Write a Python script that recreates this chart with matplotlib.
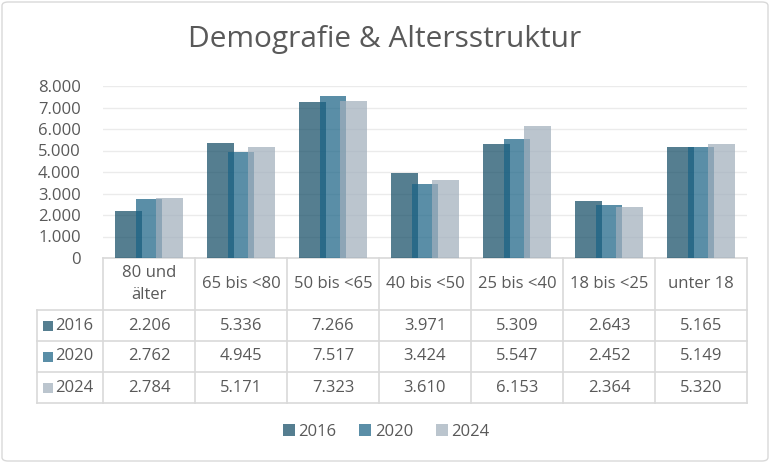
import numpy as np
import matplotlib
matplotlib.use("Agg")
import matplotlib.pyplot as plt
from matplotlib.patches import FancyBboxPatch

plt.rcParams['font.family'] = ['Open Sans', 'DejaVu Sans']

# Daten
categories = ["80 und\nälter", "65 bis <80", "50 bis <65", "40 bis <50",
              "25 bis <40", "18 bis <25", "unter 18"]
years = ["2016", "2020", "2024"]
v2016 = [2206, 5336, 7266, 3971, 5309, 2643, 5165]
v2020 = [2762, 4945, 7517, 3424, 5547, 2452, 5149]
v2024 = [2784, 5171, 7323, 3610, 6153, 2364, 5320]
yticks = [0, 1000, 2000, 3000, 4000, 5000, 6000, 7000, 8000]

series = [v2016, v2020, v2024]
colors = ["#134c65", "#1a6386", "#a1afbc"]
alpha = 0.72
txt = "#595959"
grid = "#d9d9d9"
fs = 12

W, H = 770, 463
fig = plt.figure(figsize=(W / 100, H / 100), dpi=100)


def box(x0, y0, x1, y1):
    # Pixel (oben links) -> figure fraction
    return [x0 / W, 1 - y1 / H, (x1 - x0) / W, (y1 - y0) / H]


# Rahmen
fig.patches.append(FancyBboxPatch((2 / W, 2 / H), (W - 4) / W, (H - 4) / H,
                                  boxstyle="round,pad=0,rounding_size=0.008",
                                  transform=fig.transFigure, fill=False,
                                  edgecolor=grid, linewidth=1))

fig.text(0.5, 1 - 40 / H, "Demografie & Altersstruktur", ha="center", va="center",
         fontsize=21.5, color=txt)

# Balken
ax = fig.add_axes(box(103, 86, 747, 258))
x = np.arange(len(categories))
bw = 0.29
off = 0.225
for i, (vals, c) in enumerate(zip(series, colors)):
    ax.bar(x + (i - 1) * off, vals, width=bw, color=c, alpha=alpha, zorder=3 + i)

ax.set_xlim(-0.5, len(categories) - 0.5)
ax.set_ylim(0, 8000)
ax.set_yticks(yticks)
ax.set_yticklabels([f"{v:,}".replace(",", ".") for v in yticks], fontsize=fs, color=txt)
ax.tick_params(axis="y", length=0, pad=16)
ax.set_xticks([])
ax.grid(axis="y", color="#ebebeb", linewidth=1, zorder=0)
for s in ["top", "right", "left"]:
    ax.spines[s].set_visible(False)
ax.spines["bottom"].set_color(grid)
ax.spines["bottom"].set_linewidth(1.2)

# Datentabelle
lab_w = (103 - 37) / 92
tab = fig.add_axes(box(37, 258, 747, 404))
tab.set_xlim(-0.5 - lab_w, len(categories) - 0.5)
tab.set_ylim(146, 0)
tab.axis("off")
row_y = [52, 83, 114, 145]
lk = dict(color=grid, linewidth=1.2, clip_on=False)
for b in np.arange(len(categories) + 1) - 0.5:
    tab.plot([b, b], [0, 145], **lk)
tab.plot([-0.5 - lab_w, -0.5 - lab_w], [52, 145], **lk)
for ry in row_y:
    tab.plot([-0.5 - lab_w, len(categories) - 0.5], [ry, ry], **lk)

for i, cat in enumerate(categories):
    tab.text(i, 26, cat, ha="center", va="center", fontsize=fs, color=txt,
             linespacing=1.45)

for r, (yr, vals, c) in enumerate(zip(years, series, colors)):
    yc = (row_y[r] + row_y[r + 1]) / 2
    tab.scatter([-0.5 - lab_w + 0.12], [yc], marker="s", s=45, color=c, alpha=alpha,
                linewidths=0)
    tab.text(-0.5 - lab_w + 0.2, yc, yr, ha="left", va="center", fontsize=fs, color=txt)
    for i, v in enumerate(vals):
        tab.text(i, yc, f"{v:,}".replace(",", "."), ha="center", va="center",
                 fontsize=fs, color=txt)

# Legende
handles = [plt.Line2D([], [], marker="s", linestyle="", markersize=8,
                      markerfacecolor=c, markeredgewidth=0, alpha=alpha) for c in colors]
fig.legend(handles, years, loc="center", bbox_to_anchor=(0.5, 1 - 432 / H),
           ncol=3, frameon=False, fontsize=fs, labelcolor=txt,
           handletextpad=0.1, columnspacing=1.2, handlelength=1.0)

fig.savefig("out.png", dpi=100)
